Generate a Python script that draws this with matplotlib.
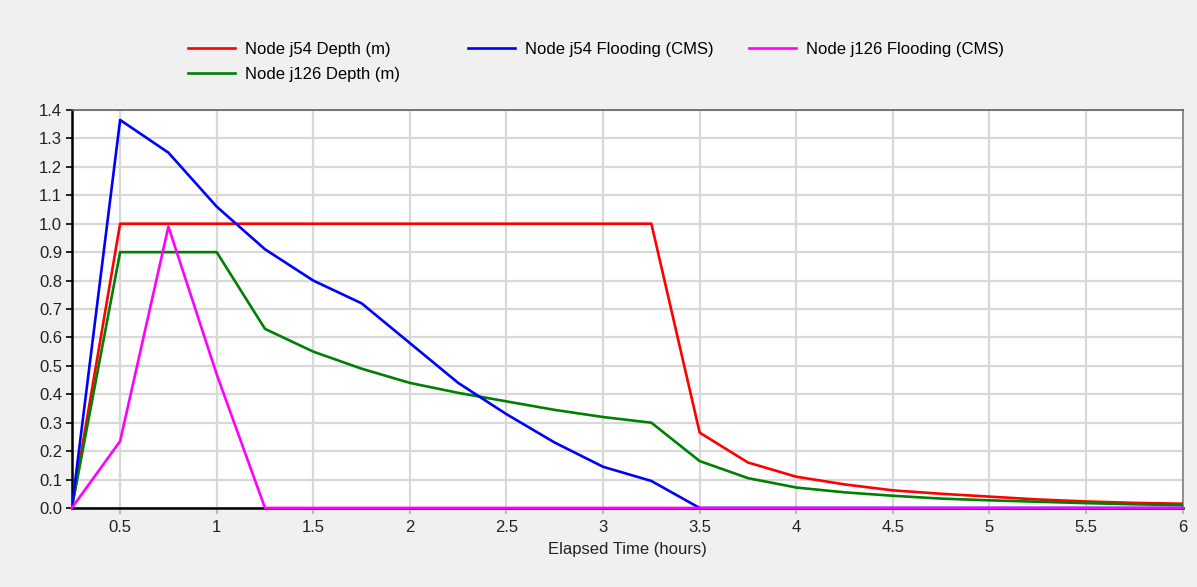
import matplotlib.pyplot as plt
from matplotlib.ticker import FormatStrFormatter

plt.rcParams['font.family'] = ['Liberation Sans', 'DejaVu Sans']

# Time steps (hours)
hours = [0.25, 0.5, 0.75, 1.0, 1.25, 1.5, 1.75, 2.0, 2.25, 2.5, 2.75, 3.0,
         3.25, 3.5, 3.75, 4.0, 4.25, 4.5, 4.75, 5.0, 5.25, 5.5, 5.75, 6.0]

j54_depth = [0.0, 1.0, 1.0, 1.0, 1.0, 1.0, 1.0, 1.0, 1.0, 1.0, 1.0, 1.0,
             1.0, 0.265, 0.16, 0.11, 0.083, 0.062, 0.05, 0.04, 0.03, 0.023, 0.018, 0.015]
j126_depth = [0.0, 0.9, 0.9, 0.9, 0.63, 0.55, 0.49, 0.44, 0.405, 0.375, 0.345, 0.32,
              0.30, 0.165, 0.105, 0.072, 0.055, 0.043, 0.033, 0.027, 0.022, 0.017, 0.013, 0.01]
j54_flood = [0.0, 1.365, 1.25, 1.06, 0.91, 0.80, 0.72, 0.58, 0.44, 0.33, 0.23, 0.145,
             0.095, 0.0, 0.0, 0.0, 0.0, 0.0, 0.0, 0.0, 0.0, 0.0, 0.0, 0.0]
j126_flood = [0.0, 0.235, 0.99, 0.47, 0.0, 0.0, 0.0, 0.0, 0.0, 0.0, 0.0, 0.0,
              0.0, 0.0, 0.0, 0.0, 0.0, 0.0, 0.0, 0.0, 0.0, 0.0, 0.0, 0.0]

x_ticks = [0.5, 1, 1.5, 2, 2.5, 3, 3.5, 4, 4.5, 5, 5.5, 6]
x_tick_labels = ['0.5', '1', '1.5', '2', '2.5', '3', '3.5', '4', '4.5', '5', '5.5', '6']
y_ticks = [0.0, 0.1, 0.2, 0.3, 0.4, 0.5, 0.6, 0.7, 0.8, 0.9, 1.0, 1.1, 1.2, 1.3, 1.4]

FS = 12

fig = plt.figure(figsize=(11.97, 5.87), dpi=100, facecolor='#f0f0f0')
ax = fig.add_axes([0.060, 0.1346, 0.928, 0.678])
ax.set_facecolor('white')

lw = 1.9
l1, = ax.plot(hours, j54_depth, color='#ff0000', lw=lw, label='Node j54 Depth (m)', zorder=3)
l2, = ax.plot(hours, j126_depth, color='#008000', lw=lw, label='Node j126 Depth (m)', zorder=3)
l3, = ax.plot(hours, j54_flood, color='#0000ff', lw=lw, label='Node j54 Flooding (CMS)', zorder=3)
l4, = ax.plot(hours, j126_flood, color='#ff00ff', lw=lw, label='Node j126 Flooding (CMS)', zorder=4,
              clip_on=False)

ax.set_xlim(0.25, 6)
ax.set_ylim(0, 1.4)
ax.set_xticks(x_ticks)
ax.set_xticklabels(x_tick_labels)
ax.set_yticks(y_ticks)
ax.yaxis.set_major_formatter(FormatStrFormatter('%.1f'))
ax.grid(True, color='#d8d8d8', lw=1.6, zorder=0)
ax.set_axisbelow(True)

ax.spines['left'].set_color('black')
ax.spines['bottom'].set_color('black')
ax.spines['left'].set_linewidth(1.8)
ax.spines['bottom'].set_linewidth(1.8)
ax.spines['top'].set_color('#606060')
ax.spines['right'].set_color('#808080')
ax.spines['top'].set_linewidth(1.2)
ax.spines['right'].set_linewidth(1.2)

ax.tick_params(axis='x', colors='#bbbbbb', labelcolor='#222222', labelsize=FS, length=4, width=1.5, pad=5)
ax.tick_params(axis='y', colors='black', labelcolor='#222222', labelsize=FS, length=4, width=1.2, pad=3)
ax.set_xlabel('Elapsed Time (hours)', fontsize=FS, color='#222222', labelpad=5)

# Legend laid out in fixed columns, like the original software
legend_kw = dict(loc='upper left', frameon=False, fontsize=FS, handlelength=2.8,
                 handletextpad=0.6, labelspacing=0.6, borderaxespad=0, borderpad=0)
top = 1 - 42 / 587
leg1 = fig.legend(handles=[l1, l2], bbox_to_anchor=(188 / 1197, top), **legend_kw)
leg2 = fig.legend(handles=[l3], bbox_to_anchor=(468 / 1197, top), **legend_kw)
leg3 = fig.legend(handles=[l4], bbox_to_anchor=(749 / 1197, top), **legend_kw)

fig.savefig('out.png', dpi=100, facecolor=fig.get_facecolor())
